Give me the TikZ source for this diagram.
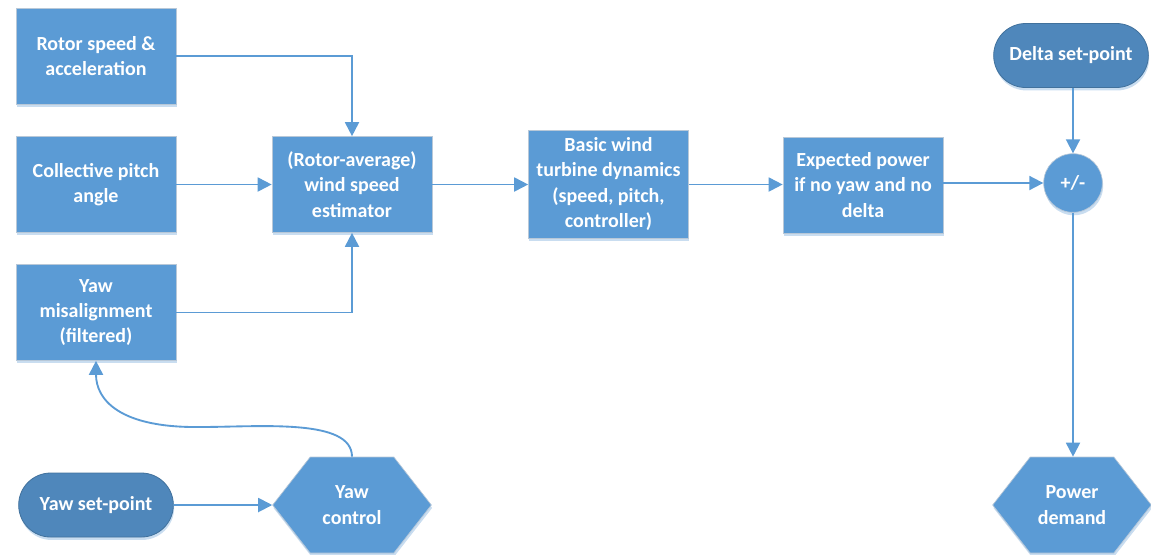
\documentclass[tikz,border=0pt]{standalone}
\usepackage{fontspec}
\setmainfont{Carlito}
\usetikzlibrary{arrows.meta,shapes.symbols,shapes.misc,shadows}

\definecolor{boxblue}{HTML}{5B9BD5}
\definecolor{termblue}{HTML}{4F87BB}
\definecolor{termedge}{HTML}{41719C}
\definecolor{boxedge}{HTML}{B8C8D8}
\definecolor{shadeblue}{HTML}{C9DDF0}

\tikzset{
  base/.style={fill=boxblue, text=white, font=\bfseries\fontsize{15}{19}\selectfont,
    align=center, inner sep=2pt,
    drop shadow={shadow xshift=0.6pt, shadow yshift=-2.2pt, fill=shadeblue, opacity=1}},
  block/.style={base, rectangle, draw=boxedge, line width=0.5pt,
    minimum width=120pt, minimum height=72pt},
  terminal/.style={base, rounded rectangle, draw=termedge, fill=termblue, line width=0.6pt,
    minimum width=120pt, minimum height=48pt},
  hexa/.style={base, signal, signal to=west and east, signal pointer angle=104,
    draw=boxedge, line width=0.5pt, minimum width=119pt, minimum height=72pt},
  junction/.style={base, circle, draw=boxedge, line width=0.5pt, minimum size=44pt},
  flow/.style={draw=boxblue, line width=1.4pt, -{Triangle[length=10.5pt,width=10.5pt]}}
}

\begin{document}
\begin{tikzpicture}[x=0.75pt, y=-0.75pt]
  \useasboundingbox (0,0) rectangle (1151,554);

  % input blocks
  \node[block] (rotor) at (96,56) {Rotor speed \&\\acceleration};
  \node[block] (pitch) at (96,184.5) {Collective pitch\\angle};
  \node[block] (yawmis) at (96,312.5) {Yaw\\misalignment\\(filtered)};

  % main chain
  \node[block] (estim) at (352,184.5) {(Rotor-average)\\wind speed\\estimator};
  \node[block, minimum height=81pt] (dyn) at (608.5,184) {Basic wind\\turbine dynamics\\(speed, pitch,\\controller)};
  \node[block] (expect) at (863,185) {Expected power\\if no yaw and no\\delta};
  \node[junction] (sum) at (1073,183) {+/-};

  % set-points and outputs
  \node[terminal] (delta) at (1071,55.5) {Delta set-point};
  \node[terminal] (yawsp) at (96,505) {Yaw set-point};
  \node[hexa] (yawctl) at (352,505) {Yaw\\control};
  \node[hexa] (power) at (1072,505) {Power\\demand};

  % connectors
  \draw[flow] (rotor.east) -| (estim.north);
  \draw[flow] (pitch) -- (estim);
  \draw[flow] (yawmis.east) -| (estim.south);
  \draw[flow] (estim.east) -- (dyn.west |- estim.east);
  \draw[flow] (dyn.east |- estim) -- (expect.west |- estim);
  \draw[flow] (expect.east |- sum) -- (sum.west);
  \draw[flow] (delta.south -| sum) -- (sum.north);
  \draw[flow] (sum.south) -- (power.north -| sum);
  \draw[flow] (yawsp) -- (yawctl.west);
  \draw[flow] (yawctl.north) .. controls (352,418) and (260,427) .. (200,427)
    .. controls (120,428) and (96,400) .. (yawmis.south);
\end{tikzpicture}
\end{document}
